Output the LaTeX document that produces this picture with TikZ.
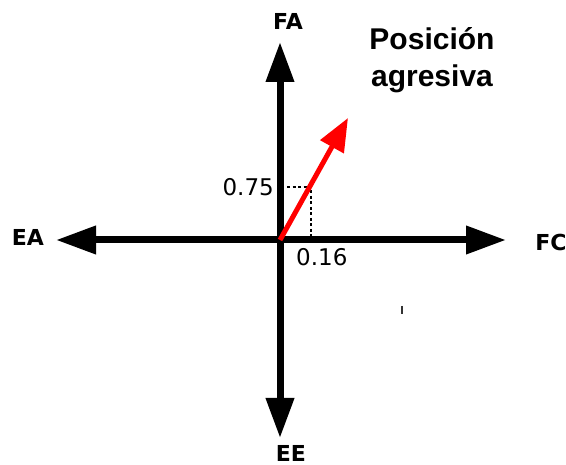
\documentclass[tikz,border=0pt]{standalone}
\usepackage{fontspec}
\usetikzlibrary{arrows.meta}
\newfontfamily\labfont{DejaVu Sans}
\newfontfamily\arifont{Liberation Sans}
\begin{document}
\begin{tikzpicture}[x=1pt,y=-1pt,
  axis/.style={line width=7pt,-{Triangle[length=40pt,width=27pt]}},
  vec/.style={red,line width=5pt,-{Triangle[length=33pt,width=26pt]}},
  guide/.style={line width=1.3pt,dash pattern=on 3pt off 2.5pt},
  axlabel/.style={font=\labfont\bfseries\fontsize{22}{26}\selectfont,inner sep=0pt},
  numlabel/.style={font=\labfont\fontsize{23}{27}\selectfont,inner sep=0pt},
  titlelabel/.style={font=\arifont\bfseries\fontsize{30}{37}\selectfont,inner sep=0pt,align=center}]
\useasboundingbox (0,0) rectangle (566,465);
\fill[white] (0,0) rectangle (566,465);
\coordinate (O) at (280,240);
\coordinate (top) at (280,42);
\coordinate (bot) at (280,438);
\coordinate (lef) at (56,240);
\coordinate (rig) at (506,240);
\coordinate (tip) at (348,118);
\coordinate (d1) at (287,187);
\coordinate (d2) at (311,187);
\coordinate (d3) at (311,240);
% axes
\draw[axis] (O) -- (top);
\draw[axis] (O) -- (bot);
\draw[axis] (O) -- (lef);
\draw[axis] (O) -- (rig);
% dashed guides
\draw[guide] (d1) -- (d2) -- (d3);
% red vector
\draw[vec] (O) -- (tip);
% labels
\node[axlabel] (FA) at (288,21) {FA};
\node[axlabel] (EA) at (28,237) {EA};
\node[axlabel] (FC) at (551,242) {FC};
\node[axlabel] (EE) at (291,453) {EE};
\node[numlabel,anchor=east] (n75) at (274,187) {0.75};
\node[numlabel,anchor=west] (n16) at (296,257) {0.16};
\node[titlelabel] (title) at (432,60) {Posición\\agresiva};
% small mark
\draw[line width=2pt,black!80] (402,306) -- (402,314);
\end{tikzpicture}
\end{document}
